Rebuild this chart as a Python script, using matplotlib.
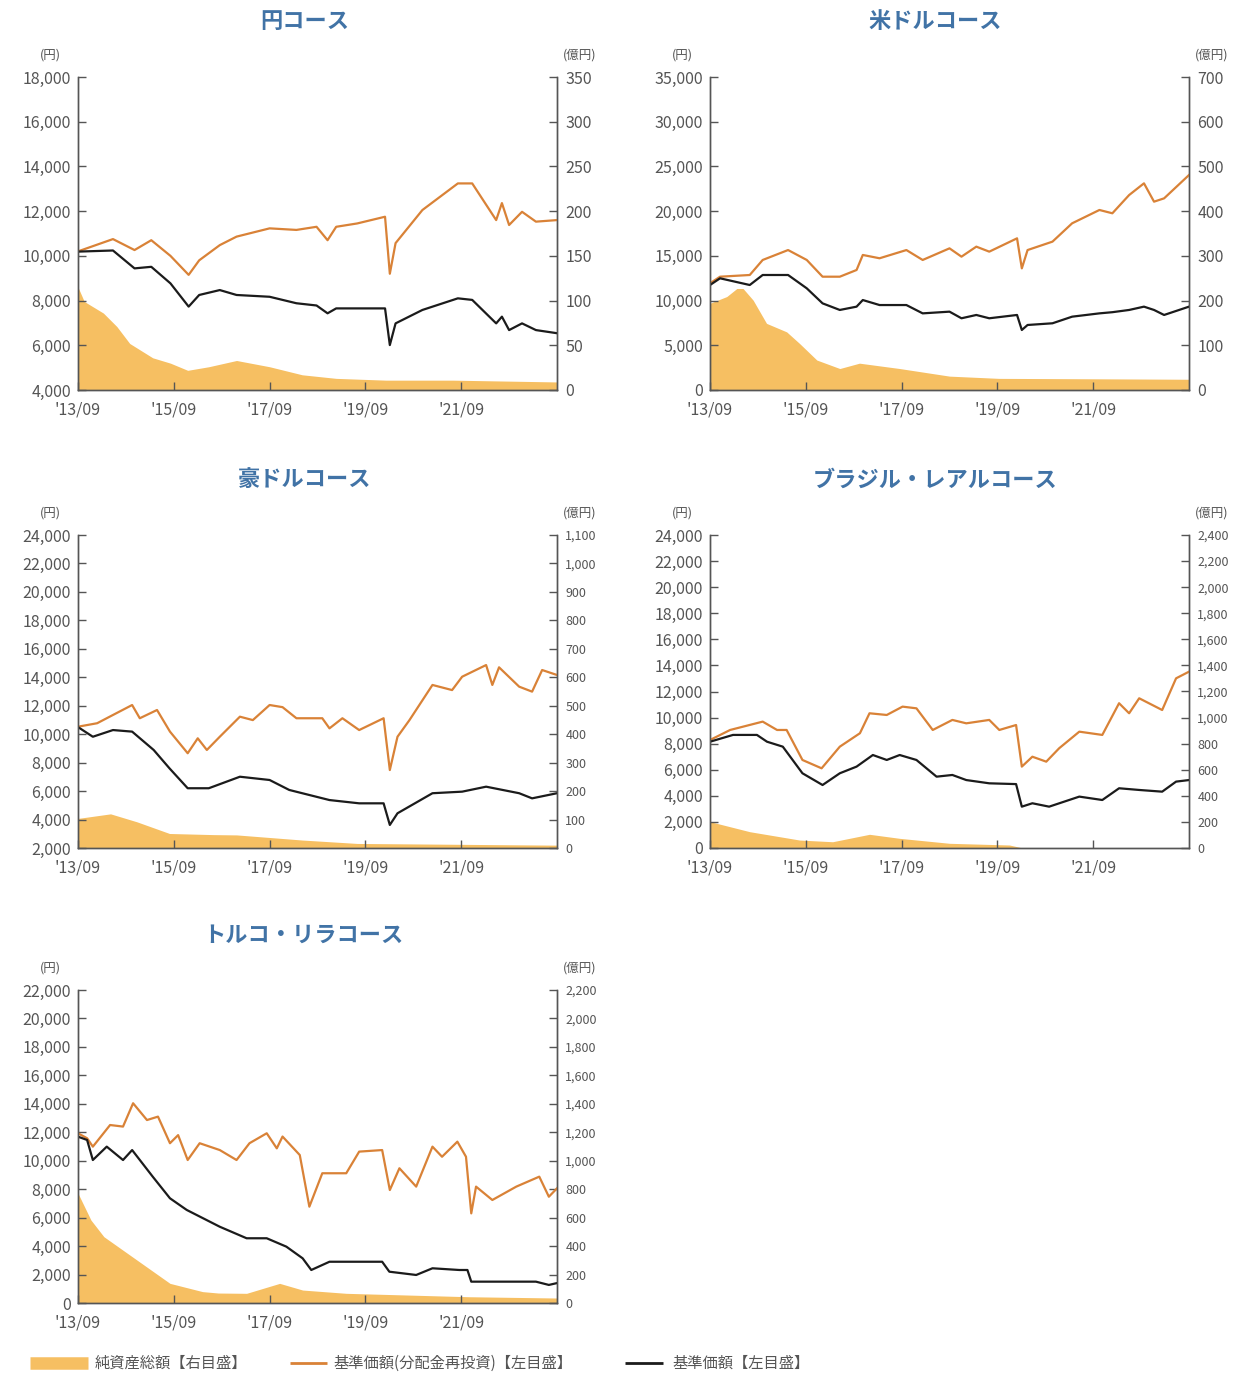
import matplotlib
matplotlib.use("Agg")
import matplotlib.pyplot as plt
from matplotlib.lines import Line2D

plt.rcParams['font.family'] = ['Noto Sans CJK JP', 'DejaVu Sans']

# ---------------- data (fractional years) ----------------
# 円コース
p1_t = [2013.67, 2014.4, 2014.85, 2015.2, 2015.6, 2015.98, 2016.2, 2016.63, 2016.98, 2017.67,
        2018.23, 2018.65, 2018.88, 2019.06, 2019.5, 2020.08, 2020.18, 2020.3, 2020.86, 2021.6,
        2021.9, 2022.4, 2022.52, 2022.67, 2022.94, 2023.23, 2023.67]
p1_reinv = [10200, 10750, 10260, 10700, 10000, 9150, 9800, 10480, 10860, 11230,
            11160, 11300, 10700, 11300, 11450, 11750, 9200, 10570, 12050, 13240,
            13240, 11600, 12360, 11380, 11970, 11530, 11600]
p1_nav = [10190, 10240, 9440, 9510, 8770, 7730, 8250, 8470, 8250, 8170,
          7880, 7780, 7430, 7650, 7650, 7650, 6010, 6980, 7580, 8100,
          8030, 6980, 7280, 6680, 6980, 6680, 6540]
p1_aum_t = [2013.67, 2013.8, 2014.2, 2014.48, 2014.75, 2015.23, 2015.6, 2015.96, 2016.4, 2016.98,
            2017.67, 2018.35, 2019.06, 2020.1, 2021.5, 2023.67]
p1_aum = [115, 99, 86, 71, 52, 36, 30, 22, 26, 33, 26, 17, 13, 11, 11, 9]

# 米ドルコース
p2_t = [2013.67, 2013.88, 2014.5, 2014.77, 2015.3, 2015.69, 2016.02, 2016.38, 2016.73, 2016.86,
        2017.21, 2017.77, 2018.11, 2018.67, 2018.92, 2019.23, 2019.5, 2020.08, 2020.18, 2020.3,
        2020.82, 2021.23, 2021.8, 2022.07, 2022.42, 2022.73, 2022.94, 2023.15, 2023.67]
p2_reinv = [11930, 12670, 12860, 14540, 15650, 14540, 12670, 12670, 13420, 15100,
            14730, 15650, 14540, 15840, 14910, 16030, 15470, 16960, 13600, 15650,
            16590, 18640, 20130, 19760, 21800, 23110, 21060, 21430, 24040]
p2_nav = [11740, 12490, 11740, 12860, 12860, 11370, 9690, 8950, 9320, 10060,
          9500, 9500, 8570, 8760, 8020, 8390, 8020, 8390, 6710, 7270,
          7460, 8200, 8570, 8700, 8950, 9320, 8950, 8390, 9320]
p2_aum_t = [2013.67, 2014.02, 2014.23, 2014.36, 2014.57, 2014.85, 2015.27, 2015.54, 2015.9, 2016.38,
            2016.79, 2017.63, 2018.67, 2019.7, 2021.8, 2023.67]
p2_aum = [194, 209, 227, 227, 201, 149, 130, 104, 67, 48, 60, 48, 31, 26, 25, 24]

# 豪ドルコース
p3_t = [2013.67, 2014.07, 2014.4, 2014.8, 2014.96, 2015.32, 2015.59, 2015.96, 2016.17, 2016.36,
        2016.63, 2017.05, 2017.32, 2017.67, 2017.94, 2018.23, 2018.77, 2018.92, 2019.19, 2019.54,
        2020.05, 2020.18, 2020.34, 2020.59, 2021.07, 2021.48, 2021.69, 2022.19, 2022.32, 2022.46,
        2022.88, 2023.15, 2023.36, 2023.67]
p3_reinv = [10526, 10770, 11350, 12050, 11120, 11700, 10180, 8660, 9710, 8890,
            9820, 11230, 10990, 12050, 11900, 11120, 11120, 10410, 11120, 10290,
            11120, 7480, 9820, 10990, 13460, 13100, 14040, 14860, 13460, 14700,
            13340, 12990, 14510, 14160]
p3_nav_t = [2013.67, 2013.98, 2014.4, 2014.8, 2015.25, 2015.58, 2015.96, 2016.4, 2017.05, 2017.67,
            2018.08, 2018.92, 2019.54, 2020.05, 2020.18, 2020.34, 2021.07, 2021.69, 2022.19, 2022.88,
            2023.15, 2023.67]
p3_nav = [10500, 9820, 10290, 10180, 8890, 7600, 6200, 6200, 7010, 6780,
          6080, 5370, 5140, 5140, 3620, 4440, 5850, 5960, 6310, 5850,
          5490, 5850]
p3_aum_t = [2013.67, 2014.35, 2014.9, 2015.58, 2016.5, 2016.98, 2018.35, 2019.5, 2023.67]
p3_aum = [104, 120, 92, 51, 47, 46, 28, 16, 10]

# ブラジル・レアルコース
p4_t = [2013.67, 2014.09, 2014.77, 2015.07, 2015.27, 2015.6, 2016.0, 2016.38, 2016.8, 2017.0,
        2017.36, 2017.69, 2017.98, 2018.32, 2018.73, 2019.02, 2019.5, 2019.71, 2020.06, 2020.18,
        2020.4, 2020.69, 2020.96, 2021.38, 2021.86, 2022.21, 2022.42, 2022.63, 2023.11, 2023.4,
        2023.67]
p4_reinv = [8280, 9050, 9690, 9050, 9050, 6750, 6110, 7770, 8800, 10330,
            10200, 10840, 10710, 9050, 9820, 9560, 9820, 9050, 9430, 6240,
            7000, 6620, 7650, 8920, 8670, 11100, 10330, 11480, 10580, 13010,
            13520]
p4_nav_t = [2013.67, 2014.15, 2014.65, 2014.86, 2015.19, 2015.6, 2016.02, 2016.38, 2016.73, 2017.07,
            2017.36, 2017.63, 2017.98, 2018.4, 2018.73, 2019.02, 2019.5, 2020.06, 2020.18, 2020.4,
            2020.75, 2021.38, 2021.86, 2022.21, 2022.63, 2023.11, 2023.4, 2023.67]
p4_nav = [8150, 8670, 8670, 8150, 7770, 5730, 4830, 5730, 6240, 7130,
          6750, 7130, 6750, 5470, 5600, 5210, 4960, 4900, 3170, 3430,
          3170, 3940, 3680, 4580, 4450, 4320, 5090, 5210]
p4_aum_t = [2013.67, 2014.5, 2015.54, 2016.23, 2017.0, 2017.63, 2018.67, 2019.92, 2020.15, 2023.67]
p4_aum = [202, 125, 61, 48, 105, 74, 36, 23, 4, 3]

# トルコ・リラコース
p5_t = [2013.67, 2013.86, 2013.98, 2014.34, 2014.61, 2014.82, 2015.11, 2015.34, 2015.59, 2015.76,
        2015.96, 2016.21, 2016.63, 2016.98, 2017.25, 2017.61, 2017.82, 2017.94, 2018.3, 2018.5,
        2018.77, 2019.27, 2019.54, 2020.02, 2020.18, 2020.38, 2020.73, 2021.07, 2021.27, 2021.59,
        2021.77, 2021.88, 2021.98, 2022.32, 2022.82, 2023.3, 2023.5, 2023.67]
p5_reinv = [11930, 11580, 10990, 12510, 12400, 14040, 12860, 13100, 11230, 11800,
            10050, 11230, 10750, 10050, 11230, 11930, 10870, 11700, 10400, 6770,
            9120, 9120, 10640, 10750, 7940, 9470, 8180, 10990, 10280, 11340,
            10280, 6300, 8180, 7240, 8180, 8880, 7470, 8060]
p5_nav_t = [2013.67, 2013.86, 2013.98, 2014.27, 2014.61, 2014.8, 2015.23, 2015.59, 2015.94, 2016.63,
            2017.19, 2017.61, 2018.02, 2018.36, 2018.54, 2018.92, 2020.02, 2020.17, 2020.73, 2021.07,
            2021.63, 2021.8, 2021.88, 2022.25, 2023.23, 2023.5, 2023.67]
p5_nav = [11690, 11460, 10050, 10990, 10050, 10750, 8880, 7360, 6540, 5360,
          4550, 4550, 3960, 3140, 2320, 2900, 2900, 2200, 1970, 2440,
          2320, 2320, 1500, 1500, 1500, 1270, 1400]
p5_aum_t = [2013.67, 2013.94, 2014.21, 2014.9, 2015.59, 2016.27, 2016.6, 2017.19, 2017.88, 2018.36,
            2019.27, 2021.83, 2023.67]
p5_aum = [771, 583, 466, 302, 138, 80, 70, 68, 138, 91, 68, 44, 35]

titles = ["円コース", "米ドルコース", "豪ドルコース", "ブラジル・レアルコース", "トルコ・リラコース"]
x_ticks = [2013.67, 2015.67, 2017.67, 2019.67, 2021.67]
x_labels = ["'13/09", "'15/09", "'17/09", "'19/09", "'21/09"]
legend_labels = ["純資産総額【右目盛】", "基準価額(分配金再投資)【左目盛】", "基準価額【左目盛】"]

# ---------------- styling ----------------
C_FILL = "#F6BF62"
C_ORANGE = "#D98237"
C_BLACK = "#1b1b1b"
C_TITLE = "#4173A6"
C_TEXT = "#555555"
C_SPINE = "#555555"

panels = [
    dict(t=p1_t, reinv=p1_reinv, nav_t=p1_t, nav=p1_nav, aum_t=p1_aum_t, aum=p1_aum,
         ylim=(4000, 18000), ystep=2000, rlim=(0, 350), rstep=50, rfs=11.5),
    dict(t=p2_t, reinv=p2_reinv, nav_t=p2_t, nav=p2_nav, aum_t=p2_aum_t, aum=p2_aum,
         ylim=(0, 35000), ystep=5000, rlim=(0, 700), rstep=100, rfs=11.5),
    dict(t=p3_t, reinv=p3_reinv, nav_t=p3_nav_t, nav=p3_nav, aum_t=p3_aum_t, aum=p3_aum,
         ylim=(2000, 24000), ystep=2000, rlim=(0, 1100), rstep=100, rfs=9),
    dict(t=p4_t, reinv=p4_reinv, nav_t=p4_nav_t, nav=p4_nav, aum_t=p4_aum_t, aum=p4_aum,
         ylim=(0, 24000), ystep=2000, rlim=(0, 2400), rstep=200, rfs=9),
    dict(t=p5_t, reinv=p5_reinv, nav_t=p5_nav_t, nav=p5_nav, aum_t=p5_aum_t, aum=p5_aum,
         ylim=(0, 22000), ystep=2000, rlim=(0, 2200), rstep=200, rfs=9),
]

W, H = 1242, 1374
fig = plt.figure(figsize=(W / 100, H / 100), dpi=100)

lefts = [78, 710, 78, 710, 78]
tops = [77, 77, 535, 535, 990]
aw, ah = 479, 313
title_x = [305, 935, 305, 935, 303]
title_y = [22, 22, 480, 480, 935]

for i, p in enumerate(panels):
    l, tp = lefts[i], tops[i]
    ax = fig.add_axes([l / W, 1 - (tp + ah) / H, aw / W, ah / H])
    axr = ax.twinx()
    ax.set_zorder(axr.get_zorder() + 1)
    ax.patch.set_visible(False)

    axr.fill_between(p['aum_t'], 0, p['aum'], color=C_FILL, lw=0)
    ax.plot(p['t'], p['reinv'], color=C_ORANGE, lw=1.6)
    ax.plot(p['nav_t'], p['nav'], color=C_BLACK, lw=1.6)

    ax.set_xlim(2013.67, 2023.67)
    ax.set_ylim(*p['ylim'])
    axr.set_ylim(*p['rlim'])
    yt = list(range(p['ylim'][0], p['ylim'][1] + 1, p['ystep']))
    ax.set_yticks(yt)
    ax.set_yticklabels([f"{v:,}" for v in yt])
    rt = list(range(p['rlim'][0], p['rlim'][1] + 1, p['rstep']))
    axr.set_yticks(rt)
    axr.set_yticklabels([f"{v:,}" for v in rt])
    ax.set_xticks(x_ticks)
    ax.set_xticklabels(x_labels)

    for a in (ax, axr):
        a.spines['top'].set_visible(False)
        for s in ('left', 'right', 'bottom'):
            a.spines[s].set_color(C_SPINE)
            a.spines[s].set_linewidth(1.0)
    ax.tick_params(axis='y', direction='in', length=6, width=1, color=C_SPINE,
                   labelsize=11.5, labelcolor=C_TEXT, pad=5)
    ax.tick_params(axis='x', direction='in', length=6, width=1, color=C_SPINE,
                   labelsize=11.5, labelcolor=C_TEXT, pad=8)
    axr.tick_params(axis='y', direction='in', length=6, width=1, color=C_SPINE,
                    labelsize=p['rfs'], labelcolor=C_TEXT, pad=6)

    ax.annotate("(円)", xy=(0, 1), xycoords='axes fraction', xytext=(-20, 16),
                textcoords='offset points', ha='center', va='center', fontsize=9, color=C_TEXT)
    ax.annotate("(億円)", xy=(1, 1), xycoords='axes fraction', xytext=(16, 16),
                textcoords='offset points', ha='center', va='center', fontsize=9, color=C_TEXT)

    fig.text(title_x[i] / W, 1 - title_y[i] / H, titles[i], ha='center', va='center',
             fontsize=16, fontweight='bold', color=C_TITLE)

# ---------------- legend (drawn manually for per-item handle lengths) ----------------
leg_y = 1 - 1363 / H
leg_items = [
    (30, 88, 95, C_FILL, 9),
    (290, 327, 333, C_ORANGE, 2),
    (625, 663, 672, C_BLACK, 2),
]
for (x0, x1, xt, col, lw), lab in zip(leg_items, legend_labels):
    fig.add_artist(Line2D([x0 / W, x1 / W], [leg_y, leg_y], color=col, lw=lw,
                          transform=fig.transFigure, solid_capstyle='butt'))
    fig.text(xt / W, leg_y, lab, ha='left', va='center', fontsize=11, color=C_TEXT)

fig.savefig("out.png", dpi=100, facecolor='white')
